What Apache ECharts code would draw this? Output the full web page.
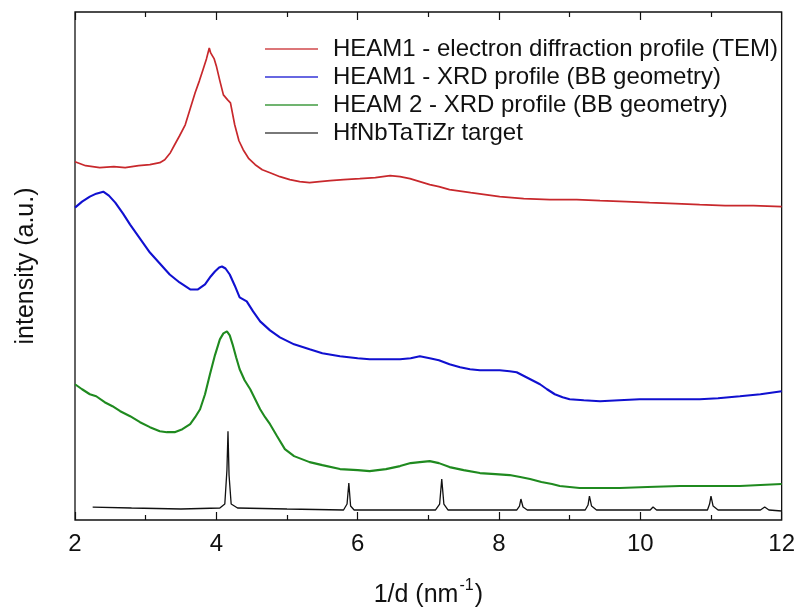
<!DOCTYPE html>
<html>
<head>
<meta charset="utf-8">
<script src="https://cdn.jsdelivr.net/npm/echarts@6/dist/echarts.min.js"></script>
<style>html,body{margin:0;padding:0;background:#fff;}#c{width:798px;height:613px;}</style>
</head>
<body>
<div id="c"></div>
<script>
const seriesNames = [
  'HEAM1 - electron diffraction profile (TEM)',
  'HEAM1 - XRD profile (BB geometry)',
  'HEAM 2 - XRD profile (BB geometry)',
  'HfNbTaTiZr target'
];
const xTicks = [2, 4, 6, 8, 10, 12];

const redX = [2.00,2.15,2.35,2.55,2.71,2.90,3.06,3.20,3.27,3.35,3.41,3.48,3.56,3.63,3.70,3.76,3.81,3.86,3.90,3.92,3.94,3.97,4.00,4.05,4.10,4.16,4.20,4.26,4.32,4.38,4.46,4.55,4.65,4.76,4.90,5.04,5.18,5.32,5.46,5.61,5.80,6.03,6.25,6.46,6.60,6.74,6.88,7.02,7.15,7.30,7.60,8.01,8.35,8.72,9.10,9.43,9.80,10.13,10.50,10.84,11.20,11.60,12.00];
const redY = [359,355,353,354,353,355,356,358,361,368,376,385,396,412,428,440,451,462,473,468,470,462,455,440,426,421,418,396,380,371,362,356,351,348,344,341,339,338,339,340,341,342,343,345,344,342,339,336,334,331,328,324,322,321,321,320,319,318,317,316,315,315,314];

const blueX = [2.00,2.10,2.21,2.30,2.40,2.48,2.57,2.68,2.78,2.92,3.06,3.20,3.34,3.48,3.63,3.74,3.84,3.92,3.98,4.04,4.08,4.13,4.19,4.26,4.33,4.43,4.52,4.62,4.76,4.90,5.10,5.32,5.50,5.75,6.00,6.17,6.40,6.60,6.75,6.88,7.02,7.15,7.30,7.45,7.59,7.73,7.87,8.01,8.15,8.25,8.36,8.47,8.58,8.68,8.79,8.90,9.00,9.20,9.43,9.70,9.99,10.40,10.84,11.10,11.41,11.70,12.00];
const blueY = [313,319,324,327,329,325,318,307,296,282,268,257,246,238,231,231,236,244,249,253,254,252,246,235,223,219,209,199,190,183,176,171,167,164,162,161,161,161,162,164,162,160,156,153,151,150,150,150,149,148,144,140,136,131,126,123,121,120,119,120,121,121,121,122,124,126,129];

const greenX = [2.00,2.10,2.21,2.30,2.42,2.53,2.64,2.78,2.92,3.06,3.20,3.30,3.41,3.52,3.63,3.70,3.77,3.84,3.91,3.98,4.05,4.10,4.15,4.19,4.23,4.28,4.33,4.40,4.48,4.55,4.62,4.69,4.76,4.86,4.97,5.10,5.32,5.50,5.75,6.00,6.17,6.40,6.60,6.75,6.88,7.02,7.15,7.30,7.50,7.73,7.95,8.15,8.30,8.44,8.60,8.75,8.86,9.00,9.14,9.40,9.71,10.10,10.56,11.00,11.41,11.70,12.00];
const greenY = [136,131,126,124,118,114,109,104,98,93,89,88,88,91,96,103,111,126,146,165,181,187,189,185,176,163,151,140,131,121,111,103,96,84,71,64,58,55,51,50,49,51,54,57,58,59,57,53,50,47,46,45,43,41,38,36,34,33,32,32,32,33,34,34,34,35,36];

const blackX = [2.25,2.80,3.50,4.05,4.12,4.15,4.165,4.18,4.21,4.30,5.00,5.80,5.85,5.875,5.90,5.95,7.10,7.16,7.19,7.22,7.28,8.25,8.29,8.31,8.34,8.40,9.22,9.26,9.28,9.31,9.38,10.14,10.18,10.23,10.95,10.98,11.00,11.03,11.10,11.70,11.76,11.82,12.00];
const blackY = [13,12,11,12,16,50,89,45,16,12,11,10,16,37,14,10,10,16,41,16,10,10,14,21,13,10,10,15,24,14,10,10,13,10,10,16,24,14,10,10,13,10,9];

const zip = (xs, ys) => xs.map((x, i) => [x, ys[i]]);
const colors = ['#c8282c', '#1010d0', '#1f8a1f', '#111111'];
const FONT = 'Liberation Sans, Arial, sans-serif';

const chart = echarts.init(document.getElementById('c'), null, {renderer: 'canvas'});
const mk = (i, xs, ys, w) => ({
  name: seriesNames[i], type: 'line', data: zip(xs, ys), symbol: 'none', showSymbol: false,
  smooth: false, lineStyle: {color: colors[i], width: w}, itemStyle: {color: colors[i]},
  animation: false, xAxisIndex: 0, yAxisIndex: 0
});

chart.setOption({
  backgroundColor: '#fff',
  animation: false,
  grid: {left: 75, right: 16, top: 12, bottom: 92, show: true, borderColor: '#111', borderWidth: 1.3, backgroundColor: 'transparent'},
  legend: {
    orient: 'vertical', left: 260, top: 32, itemWidth: 53, itemHeight: 1.6, itemGap: 4, icon: 'rect',
    data: seriesNames.map((n, i) => ({name: n, itemStyle: {color: colors[i], opacity: i === 3 ? 0.75 : 0.85}})),
    textStyle: {fontFamily: FONT, fontSize: 24, color: '#111', lineHeight: 24, padding: [0, 0, 0, 10]}
  },
  xAxis: [{
    type: 'value', min: 2, max: 12, interval: 2, position: 'bottom',
    axisLine: {show: false},
    axisTick: {show: true, inside: true, length: 8, lineStyle: {color: '#111', width: 1.2}},
    minorTick: {show: true, splitNumber: 2, length: 5, lineStyle: {color: '#111', width: 1.2}},
    splitLine: {show: false},
    axisLabel: {margin: 12, fontFamily: FONT, fontSize: 24, color: '#111',
      formatter: v => { const t = xTicks.find(k => Math.abs(k - v) < 1e-9); return t === undefined ? '' : String(t); }},
    name: '{a|1/d (nm}{s|-1}{a|)}', nameLocation: 'middle', nameGap: 58,
    nameTextStyle: {rich: {
      a: {fontFamily: FONT, fontSize: 25, color: '#111', lineHeight: 30, verticalAlign: 'bottom'},
      s: {fontFamily: FONT, fontSize: 16, color: '#111', lineHeight: 30, verticalAlign: 'top', padding: [0, 1, 0, 1]}
    }}
  }, {
    type: 'value', min: 2, max: 12, interval: 2, position: 'top',
    axisLine: {show: false},
    axisTick: {show: true, inside: true, length: 8, lineStyle: {color: '#111', width: 1.2}},
    minorTick: {show: true, splitNumber: 2, length: 5, lineStyle: {color: '#111', width: 1.2}},
    splitLine: {show: false}, axisLabel: {show: false}
  }],
  yAxis: [{
    type: 'value', min: 0, max: 509,
    axisLine: {show: false}, axisTick: {show: false}, axisLabel: {show: false}, splitLine: {show: false},
    name: 'intensity (a.u.)', nameLocation: 'middle', nameGap: 36,
    nameTextStyle: {fontFamily: FONT, fontSize: 25, color: '#111'}
  }],
  series: [
    mk(0, redX, redY, 1.7),
    mk(1, blueX, blueY, 2.1),
    mk(2, greenX, greenY, 2.1),
    mk(3, blackX, blackY, 1.3)
  ]
});
</script>
</body>
</html>
